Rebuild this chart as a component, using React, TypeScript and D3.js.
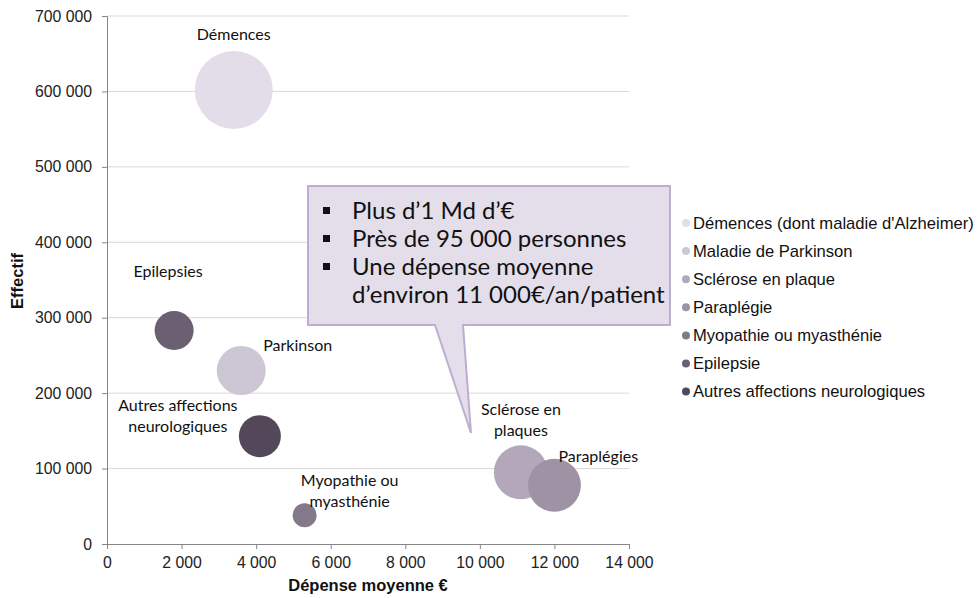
import React, { useEffect, useRef } from "react";
import * as d3 from "d3";

const categories = [
  "Démences (dont maladie d'Alzheimer)",
  "Maladie de Parkinson",
  "Sclérose en plaque",
  "Paraplégie",
  "Myopathie ou myasthénie",
  "Epilepsie",
  "Autres affections neurologiques",
];
const depenseMoyenne = [3400, 3600, 11100, 12000, 5300, 1800, 4100];
const effectif = [602000, 230000, 95000, 78000, 38000, 283000, 143000];
const totalMdEuros = [2.19, 0.865, 1.05, 1.01, 0.207, 0.548, 0.635];
const colors = ["#e3dde9", "#cdc6d4", "#b2a8b9", "#9e93a4", "#84798a", "#6b6072", "#524859"];
const bubbleLabels = [
  ["Démences"],
  ["Parkinson"],
  ["Sclérose en", "plaques"],
  ["Paraplégies"],
  ["Myopathie ou", "myasthénie"],
  ["Epilepsies"],
  ["Autres affections", "neurologiques"],
];
const xTicks = [0, 2000, 4000, 6000, 8000, 10000, 12000, 14000];
const yTicks = [0, 100000, 200000, 300000, 400000, 500000, 600000, 700000];
const calloutLines = [
  { bullet: true, text: "Plus d’1 Md d’€" },
  { bullet: true, text: "Près de 95 000 personnes" },
  { bullet: true, text: "Une dépense moyenne" },
  { bullet: false, text: "d’environ 11 000€/an/patient" },
];

const W = 977;
const H = 598;

export default function App() {
  const ref = useRef<SVGSVGElement>(null);
  useEffect(() => {
    const svg = d3.select(ref.current);
    svg.selectAll("*").remove();
    const x = d3.scaleLinear().domain([0, 14000]).range([107, 629]);
    const y = d3.scaleLinear().domain([0, 700000]).range([544, 16]);
    const r = d3.scaleSqrt().domain([0, 1.05]).range([0, 27]);
    const fmt = (v: number) => d3.format(",")(v).replace(/,/g, " ");
    const axisFont = "'Liberation Sans', Arial, sans-serif";
    const labelFont = "Lato, 'Open Sans', sans-serif";

    // gridlines
    svg.append("g").selectAll("line").data(yTicks.slice(1)).join("line")
      .attr("x1", x(0)).attr("x2", x(14000))
      .attr("y1", (d) => y(d)).attr("y2", (d) => y(d))
      .attr("stroke", "#d9d9d9").attr("stroke-width", 1);

    // axes
    const gy = svg.append("g").attr("transform", `translate(${x(0)},0)`)
      .call(d3.axisLeft(y).tickValues(yTicks).tickFormat((d) => fmt(+d)).tickSize(5).tickPadding(10));
    const gx = svg.append("g").attr("transform", `translate(0,${y(0)})`)
      .call(d3.axisBottom(x).tickValues(xTicks).tickFormat((d) => fmt(+d)).tickSize(5).tickPadding(8));
    [gx, gy].forEach((g) => {
      g.select(".domain").attr("stroke", "#868686");
      g.selectAll(".tick line").attr("stroke", "#868686");
      g.selectAll("text").attr("font-family", axisFont).attr("font-size", 15.8).attr("fill", "#222");
    });

    // axis titles
    svg.append("text").attr("x", 368).attr("y", 591).attr("text-anchor", "middle")
      .attr("font-family", axisFont).attr("font-weight", "bold").attr("font-size", 16.5).attr("fill", "#111")
      .text("Dépense moyenne €");
    svg.append("text").attr("transform", "translate(23,281) rotate(-90)").attr("text-anchor", "middle")
      .attr("font-family", axisFont).attr("font-weight", "bold").attr("font-size", 16.5).attr("fill", "#111")
      .text("Effectif");

    // bubbles
    const data = categories.map((c, i) => ({
      c, x: depenseMoyenne[i], y: effectif[i], s: totalMdEuros[i], color: colors[i], label: bubbleLabels[i],
    }));
    svg.append("g").selectAll("circle").data(data).join("circle")
      .attr("cx", (d) => x(d.x)).attr("cy", (d) => y(d.y)).attr("r", (d) => r(d.s))
      .attr("fill", (d) => d.color);

    // bubble labels (baseline offsets relative to bubble centre)
    const labelPos: { dx: number; dy: number; anchor: string }[] = [
      { dx: 0, dy: -50, anchor: "middle" },
      { dx: 22, dy: -20, anchor: "start" },
      { dx: 0, dy: -57, anchor: "middle" },
      { dx: 4, dy: -23, anchor: "start" },
      { dx: 45, dy: -29, anchor: "middle" },
      { dx: -6, dy: -54, anchor: "middle" },
      { dx: -82, dy: -25, anchor: "middle" },
    ];
    data.forEach((d, i) => {
      const p = labelPos[i];
      const t = svg.append("text").attr("text-anchor", p.anchor)
        .attr("font-family", labelFont).attr("font-size", 16).attr("fill", "#111");
      d.label.forEach((ln, j) => {
        t.append("tspan").attr("x", x(d.x) + p.dx).attr("y", y(d.y) + p.dy + j * 21).text(ln);
      });
    });

    // callout
    const left = 308, right = 670, top = 186, bottom = 325;
    const tip = [471, 433];
    const path = `M${left},${top} L${right},${top} L${right},${bottom} L463,${bottom} L${tip[0]},${tip[1]} L435,${bottom} L${left},${bottom} Z`;
    svg.append("path").attr("d", path).attr("fill", "#e4deeb").attr("stroke", "#bcaed0").attr("stroke-width", 2);
    calloutLines.forEach((l, i) => {
      const yy = 219 + i * 28;
      if (l.bullet) {
        svg.append("rect").attr("x", 323).attr("y", yy - 12).attr("width", 7).attr("height", 7).attr("fill", "#111");
      }
      svg.append("text").attr("x", 352).attr("y", yy)
        .attr("font-family", labelFont).attr("font-size", 24).attr("fill", "#111").text(l.text);
    });

    // legend
    const lg = svg.append("g");
    data.forEach((d, i) => {
      const yy = 223 + i * 28.1;
      lg.append("circle").attr("cx", 686).attr("cy", yy).attr("r", 4).attr("fill", d.color);
      lg.append("text").attr("x", 693).attr("y", yy + 5.8).attr("font-family", axisFont)
        .attr("font-size", 16.6).attr("fill", "#111").text(d.c);
    });
  }, []);
  return (
    <svg ref={ref} width={W} height={H} style={{ position: "absolute", left: 0, top: 0, background: "#fff" }} />
  );
}
